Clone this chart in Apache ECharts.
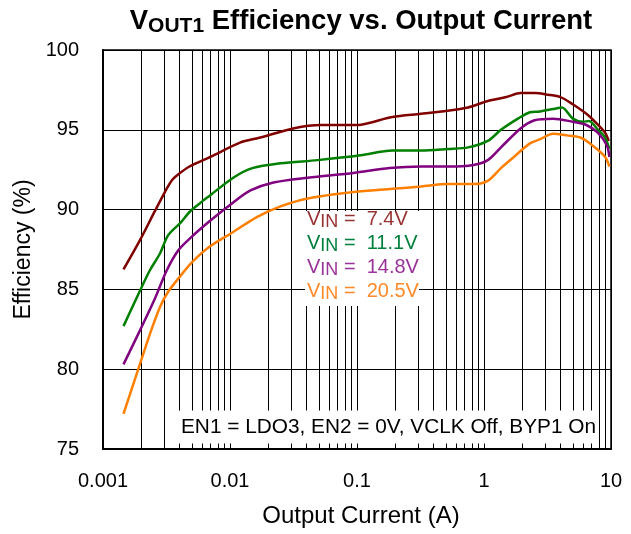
<!DOCTYPE html>
<html>
<head>
<meta charset="utf-8">
<script src="https://cdn.jsdelivr.net/npm/echarts@6/dist/echarts.min.js"></script>
<style>
  html, body { margin: 0; padding: 0; background: #fff; }
  #chart { width: 631px; height: 534px; }
</style>
</head>
<body>
<div id="chart"></div>
<script>
// values (output current in A, efficiency in %)
var xDecades = [0.001, 0.01, 0.1, 1, 10];
var yTicks = [75, 80, 85, 90, 95, 100];
var vinNames = ['7.4V', '11.1V', '14.8V', '20.5V'];
var vinColors = ['#800000', '#008000', '#800080', '#ff7f00'];
var labelColors = ['#993333', '#00803c', '#993399', '#ff8a2a'];

var cur74 = [0.00145, 0.00196, 0.00256, 0.00307, 0.0035, 0.0039, 0.0048, 0.007, 0.012, 0.017, 0.032, 0.052, 0.1, 0.12, 0.19, 0.32, 0.52, 0.75, 1.07, 1.5, 1.95, 2.5, 3.2, 4.0, 5.0, 6.4, 7.7, 9.0, 9.6];
var eff74 = [86.25, 88.1, 89.9, 91.1, 91.85, 92.2, 92.7, 93.3, 94.2, 94.5, 95.1, 95.3, 95.3, 95.4, 95.8, 96.0, 96.2, 96.4, 96.8, 97.05, 97.3, 97.3, 97.2, 97.05, 96.6, 96.0, 95.4, 94.8, 94.3];

var cur111 = [0.00145, 0.00195, 0.00234, 0.00281, 0.00326, 0.0041, 0.0048, 0.0058, 0.007, 0.0106, 0.015, 0.025, 0.049, 0.107, 0.19, 0.32, 0.52, 0.75, 1.07, 1.36, 1.85, 2.3, 2.75, 3.5, 4.1, 5.0, 6.0, 6.7, 7.9, 9.0, 9.7];
var eff111 = [82.7, 84.9, 86.2, 87.25, 88.4, 89.2, 89.85, 90.4, 90.9, 92.0, 92.6, 92.9, 93.1, 93.4, 93.7, 93.7, 93.8, 93.9, 94.3, 95.0, 95.7, 96.1, 96.15, 96.3, 96.4, 95.7, 95.5, 95.55, 95.0, 94.5, 93.8];

var cur148 = [0.00145, 0.002, 0.00257, 0.00318, 0.00392, 0.00484, 0.00697, 0.0106, 0.0145, 0.022, 0.041, 0.094, 0.18, 0.32, 0.52, 0.83, 1.07, 1.36, 1.95, 2.5, 3.5, 5.0, 6.4, 7.9, 9.3, 9.7];
var eff148 = [80.3, 82.6, 84.45, 86.2, 87.45, 88.2, 89.3, 90.45, 91.2, 91.7, 92.0, 92.3, 92.6, 92.7, 92.7, 92.8, 93.1, 93.9, 95.1, 95.6, 95.7, 95.5, 95.3, 94.8, 94.0, 93.3];

var cur205 = [0.00145, 0.00195, 0.00234, 0.00281, 0.00326, 0.00403, 0.0051, 0.00697, 0.0106, 0.0164, 0.025, 0.041, 0.094, 0.19, 0.32, 0.52, 0.83, 1.07, 1.36, 1.72, 2.3, 2.75, 3.5, 4.5, 5.8, 7.2, 9.0, 9.7];
var eff205 = [77.2, 80.3, 82.2, 83.9, 84.85, 85.8, 86.75, 87.7, 88.6, 89.55, 90.2, 90.7, 91.1, 91.3, 91.45, 91.6, 91.6, 91.8, 92.6, 93.3, 94.15, 94.4, 94.75, 94.65, 94.5, 94.0, 93.3, 92.7];

var currents = [cur74, cur111, cur148, cur205];
var effs = [eff74, eff111, eff148, eff205];

var chart = echarts.init(document.getElementById('chart'));
var FONT = 'Liberation Sans, Arial, sans-serif';

// minor log gridlines 2..9 in each decade
var minorLines = [];
for (var d = 0; d < xDecades.length - 1; d++) {
  for (var m = 2; m <= 9; m++) {
    minorLines.push([+(xDecades[d] * m).toPrecision(3), yTicks[0]]);
  }
}

var series = [{
  type: 'custom',
  z: 1,
  silent: true,
  clip: true,
  encode: { x: 0, y: 1 },
  data: minorLines,
  renderItem: function (params, api) {
    var p0 = api.coord([api.value(0), yTicks[0]]);
    var p1 = api.coord([api.value(0), yTicks[yTicks.length - 1]]);
    var x = Math.round(p0[0]) + 0.5;
    return {
      type: 'line',
      shape: { x1: x, y1: p0[1], x2: x, y2: p1[1] },
      style: { stroke: '#000', lineWidth: 1 }
    };
  }
}];
for (var s = 0; s < currents.length; s++) {
  series.push({
    name: vinNames[s],
    type: 'line',
    z: 5,
    smooth: 0.3,
    symbol: 'none',
    lineStyle: { color: vinColors[s], width: 2.5 },
    data: currents[s].map(function (c, i) { return [c, this[i]]; }, effs[s])
  });
}

// V_IN labels with white box
var labelGraphics = [{
  type: 'rect', z: 100,
  shape: { x: 305, y: 211, width: 114, height: 95 },
  style: { fill: '#fff' }
}];
vinNames.forEach(function (n, i) {
  labelGraphics.push({
    type: 'text', z: 101,
    x: 307, y: 219 + i * 24,
    style: {
      text: '{v|V}{s|IN}{n| =  ' + n + '}',
      fill: labelColors[i],
      font: '20px ' + FONT,
      verticalAlign: 'middle',
      rich: {
        v: { fontSize: 20, lineHeight: 24, verticalAlign: 'middle' },
        s: { fontSize: 18, lineHeight: 16, verticalAlign: 'bottom' },
        n: { fontSize: 20, lineHeight: 24, verticalAlign: 'middle' }
      }
    }
  });
});
labelGraphics.push({
  type: 'text', z: 101,
  x: 598, y: 427,
  style: {
    text: 'EN1 = LDO3, EN2 = 0V, VCLK Off, BYP1 On',
    fill: '#000',
    font: '20.8px ' + FONT,
    align: 'right',
    verticalAlign: 'middle',
    backgroundColor: '#fff',
    padding: [7, 2, 5, 2]
  }
});

chart.setOption({
  backgroundColor: '#fff',
  animation: false,
  title: {
    text: '{v|V}{s|OUT1}{t| Efficiency vs. Output Current}',
    left: 356,
    top: 0,
    textAlign: 'center',
    textStyle: {
      fontFamily: FONT,
      fontWeight: 'bold',
      color: '#000',
      rich: {
        v: { fontSize: 27.5, fontWeight: 'bold', fontFamily: FONT, lineHeight: 32, verticalAlign: 'middle' },
        s: { fontSize: 21, fontWeight: 'bold', fontFamily: FONT, lineHeight: 20, verticalAlign: 'bottom' },
        t: { fontSize: 27.5, fontWeight: 'bold', fontFamily: FONT, lineHeight: 32, verticalAlign: 'middle' }
      }
    }
  },
  grid: {
    left: 103, right: 20, top: 50, bottom: 85,
    show: true, borderColor: '#000', borderWidth: 1.5, backgroundColor: '#fff'
  },
  xAxis: {
    type: 'log',
    logBase: 10,
    min: xDecades[0],
    max: xDecades[xDecades.length - 1],
    name: 'Output Current (A)',
    nameLocation: 'middle',
    nameGap: 55,
    nameTextStyle: { fontFamily: FONT, fontSize: 24, color: '#000', padding: [0, 0, 0, 8] },
    axisLine: { show: true, lineStyle: { color: '#000', width: 2 } },
    axisTick: { show: false },
    axisLabel: {
      fontFamily: FONT, fontSize: 20, color: '#000', margin: 22,
      formatter: function (v) {
        var k = xDecades.findIndex(function (t) { return Math.abs(t - v) / t < 1e-6; });
        return k >= 0 ? String(xDecades[k]) : '';
      }
    },
    splitLine: { show: true, lineStyle: { color: '#000', width: 1 } }
  },
  yAxis: {
    type: 'value',
    min: yTicks[0],
    max: yTicks[yTicks.length - 1],
    interval: 5,
    name: 'Efficiency (%)',
    nameLocation: 'middle',
    nameGap: 68,
    nameTextStyle: { fontFamily: FONT, fontSize: 23, color: '#000' },
    axisLine: { show: true, lineStyle: { color: '#000', width: 2 } },
    axisTick: { show: false },
    axisLabel: { fontFamily: FONT, fontSize: 20, color: '#000', margin: 24 },
    splitLine: { show: true, lineStyle: { color: '#000', width: 1 } }
  },
  graphic: labelGraphics,
  series: series
});
</script>
</body>
</html>
